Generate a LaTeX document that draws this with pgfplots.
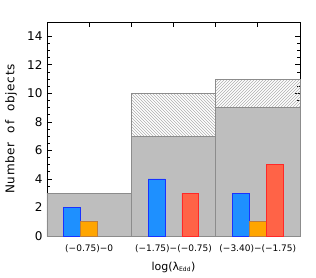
\documentclass[border=0pt]{standalone}
\usepackage{fontspec}
\setmainfont{DejaVu Sans}
\newfontfamily\ylabfont[LetterSpace=6]{DejaVu Sans}
\usepackage{pgfplots}
\pgfplotsset{compat=1.18}
\usetikzlibrary{patterns}
\definecolor{histgray}{RGB}{190,190,190}
\definecolor{histedge}{RGB}{140,140,140}
\definecolor{hatchgray}{RGB}{175,175,175}
\definecolor{bfill}{RGB}{30,144,255}
\definecolor{bedge}{RGB}{25,50,255}
\definecolor{ofill}{RGB}{255,165,0}
\definecolor{oedge}{RGB}{190,125,60}
\definecolor{rfill}{RGB}{255,99,71}
\definecolor{redge}{RGB}{255,40,40}
\begin{document}
\begin{tikzpicture}
\useasboundingbox (-47pt,-41pt) rectangle (269pt,236pt);
\begin{axis}[
  scale only axis,
  width=253pt, height=214pt,
  xmin=0, xmax=3, ymin=0, ymax=15,
  axis line style={black, line width=0.9pt},
  xtick={0.5,1,1.5,2,2.5},
  xticklabels={(−0.75)−0,,(−1.75)−(−0.75),,(−3.40)−(−1.75)},
  xtick pos=upper, xticklabel pos=lower,
  ytick={0,2,...,14}, minor y tick num=3,
  ytick pos=both, yticklabel pos=left,
  tick align=inside,
  major tick length=5pt, minor tick length=3pt,
  tick style={black, line width=0.7pt},
  /pgf/number format/assume math mode=true,
  yticklabel style={font=\fontsize{12}{12}\selectfont, xshift=-1pt},
  xticklabel style={font=\fontsize{9}{9}\selectfont, yshift=-5pt},
  xlabel={log(λ\textsubscript{\fontsize{6}{6}\selectfont Edd})},
  ylabel={\ylabfont Number\ \ of\ \ objects},
  xlabel style={font=\fontsize{11}{11}\selectfont, at={([yshift=-31pt]axis description cs:0.5,0)}, anchor=center},
  ylabel style={font=\fontsize{12}{12}\selectfont, at={([xshift=-36pt]axis description cs:0,0.5)}, anchor=center},
  clip=false,
]
% hatched upper parts (total incl. uncertain)
\addplot[ybar, bar width=1, bar shift=0pt, draw=histedge, line width=0.6pt,
  pattern=north west lines, pattern color=hatchgray] coordinates {(1.5,10)};
\addplot[ybar, bar width=1, bar shift=0pt, draw=histedge, line width=0.6pt,
  pattern=north east lines, pattern color=hatchgray] coordinates {(2.5,11)};
% gray histogram
\addplot[ybar, bar width=1, bar shift=0pt, draw=histedge, line width=0.6pt,
  fill=histgray] coordinates {(0.5,3) (1.5,7) (2.5,9)};
% blue
\addplot[ybar, bar width=0.2, bar shift=0pt, draw=bedge, line width=0.8pt,
  fill=bfill] coordinates {(0.3,2) (1.3,4) (2.3,3)};
% orange
\addplot[ybar, bar width=0.2, bar shift=0pt, draw=oedge, line width=0.8pt,
  fill=ofill] coordinates {(0.5,1) (2.5,1)};
% red
\addplot[ybar, bar width=0.2, bar shift=0pt, draw=redge, line width=0.8pt,
  fill=rfill] coordinates {(1.7,3) (2.7,5)};
\end{axis}
\end{tikzpicture}
\end{document}
